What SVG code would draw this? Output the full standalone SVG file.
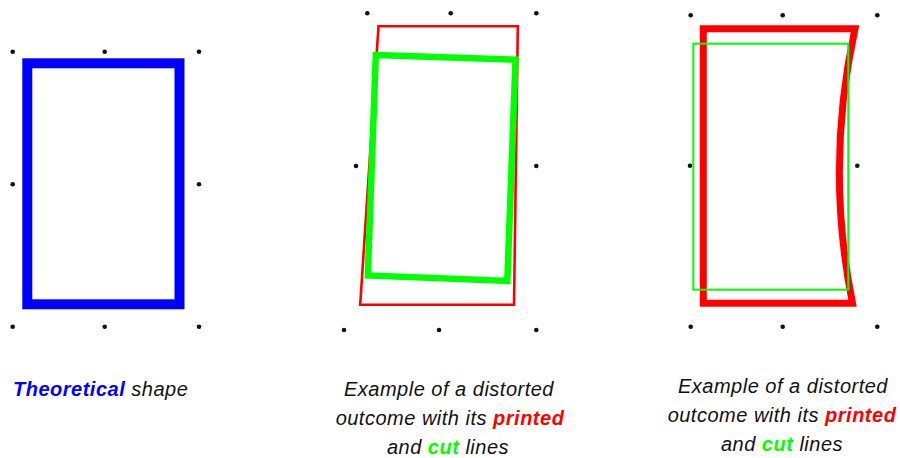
<svg xmlns="http://www.w3.org/2000/svg" width="900" height="458" viewBox="0 0 900 458">
<style>
.dot{fill:#111}
.t{font-family:"Liberation Sans",Arial,sans-serif;font-style:italic;font-size:20px;letter-spacing:0.5px;fill:#111}
.b{font-weight:bold}
</style>
<rect width="900" height="458" fill="#fff"/>
<g id="theoretical">
<g class="dot">
<circle cx="12.7" cy="51.7" r="2.3"/><circle cx="104.7" cy="51.7" r="2.3"/><circle cx="199" cy="51.7" r="2.3"/>
<circle cx="12.7" cy="184.3" r="2.3"/><circle cx="199" cy="184.3" r="2.3"/>
<circle cx="12.7" cy="326.7" r="2.3"/><circle cx="104.7" cy="326.7" r="2.3"/><circle cx="199" cy="326.7" r="2.3"/>
</g>
<rect x="27.3" y="63.3" width="152.2" height="241" fill="none" stroke="#0000ff" stroke-width="10"/>
<text class="t" x="13" y="396" letter-spacing="0.2"><tspan class="b" fill="#0000ff">Theoretical</tspan> shape</text>
</g>
<g id="distorted1">
<g class="dot">
<circle cx="367.3" cy="13.3" r="2.3"/><circle cx="450.7" cy="13.3" r="2.3"/><circle cx="536.3" cy="13.3" r="2.3"/>
<circle cx="356" cy="166" r="2.3"/><circle cx="536.3" cy="166" r="2.3"/>
<circle cx="344" cy="330" r="2.3"/><circle cx="439" cy="330" r="2.3"/><circle cx="536.3" cy="330" r="2.3"/>
</g>
<polygon points="378.5,26.2 517.8,26.2 514,304.8 360.2,304.8" fill="none" stroke="#ff0000" stroke-width="2.6"/>
<polygon points="375.8,55 515.5,59.7 507.3,281 367.8,275.5" fill="none" stroke="#00ff00" stroke-width="6.5"/>
<text class="t" text-anchor="middle" x="449" y="396">Example of a distorted</text>
<text class="t" text-anchor="middle" x="450" y="425">outcome with its <tspan class="b" fill="#ff0000">printed</tspan></text>
<text class="t" text-anchor="middle" x="448" y="454">and <tspan class="b" fill="#00ff00">cut</tspan> lines</text>
</g>
<g id="distorted2">
<g class="dot">
<circle cx="690.7" cy="15.3" r="2.3"/><circle cx="782.7" cy="15.3" r="2.3"/><circle cx="877.3" cy="15.3" r="2.3"/>
<circle cx="690" cy="165.7" r="2.3"/><circle cx="857.3" cy="165.7" r="2.3"/>
<circle cx="690.7" cy="326.7" r="2.3"/><circle cx="782.7" cy="326.7" r="2.3"/><circle cx="877.3" cy="326.7" r="2.3"/>
</g>
<path d="M703.3,28.7 L855,28.7 Q825,166 852.5,303.3 L703.3,303.3 Z" fill="none" stroke="#ff0000" stroke-width="7"/>
<rect x="693.3" y="43.7" width="155" height="246" fill="none" stroke="#00ff00" stroke-width="2"/>
<text class="t" text-anchor="middle" x="783" y="393">Example of a distorted</text>
<text class="t" text-anchor="middle" x="782" y="422">outcome with its <tspan class="b" fill="#ff0000">printed</tspan></text>
<text class="t" text-anchor="middle" x="782" y="451">and <tspan class="b" fill="#00ff00">cut</tspan> lines</text>
</g>
</svg>
